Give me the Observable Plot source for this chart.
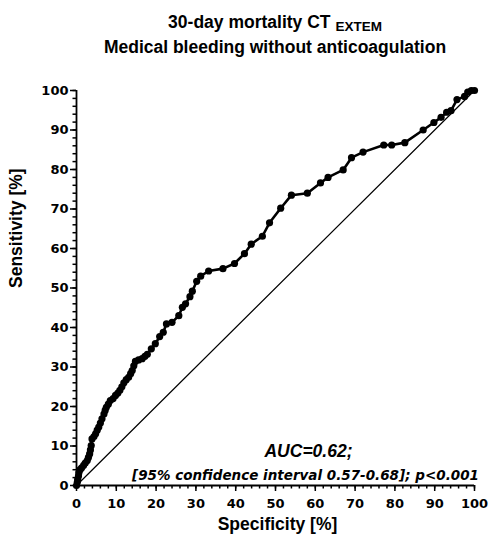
<!DOCTYPE html>
<html>
<head>
<meta charset="utf-8">
<script src="https://cdn.jsdelivr.net/npm/d3@7"></script>
<script src="https://cdn.jsdelivr.net/npm/@observablehq/plot@0.6"></script>
<style>
  html, body { margin: 0; padding: 0; background: #fff; }
  #wrap { width: 490px; height: 541px; position: relative; overflow: hidden; }
  #title { height: 66px; width: 398px; margin-left: 76px; box-sizing: border-box; padding-top: 10px;
           font-family: "Liberation Sans", Arial, sans-serif; font-weight: bold; font-size: 17.5px;
           line-height: 25px; text-align: center; color: #000; }
  #title sub { font-size: 13.5px; vertical-align: -3px; line-height: 0; }
</style>
</head>
<body>
<div id="wrap">
  <div id="title">
    <div>30-day mortality CT <sub>EXTEM</sub></div>
    <div>Medical bleeding without anticoagulation</div>
  </div>
  <div id="chart"></div>
</div>
<script>
// ROC curve points: specificity [%] and sensitivity [%]
const specificity = [0, 0.2, 0.3, 0.5, 0.6, 0.9, 1.3, 1.8, 2.2, 2.7, 3.0, 3.3, 3.5, 3.7, 3.9, 4.4, 4.8, 5.2, 5.6, 6.0,
  6.4, 6.9, 7.2, 7.5, 8.0, 8.5, 9.2, 9.8, 10.4, 10.9, 11.4, 11.9, 12.5, 13.1, 13.6, 14.0, 14.4, 14.8, 15.6, 16.5,
  17.2, 17.8, 18.8, 19.8, 20.9, 21.8, 22.6, 24.0, 25.7, 26.6, 27.4, 28.5, 29.1, 30.2, 31.2, 33.2, 36.8, 39.7, 42.2, 43.9,
  46.7, 48.5, 51.3, 54.0, 58.0, 61.3, 63.2, 67.0, 69.1, 72.0, 77.2, 79.2, 82.5, 87.1, 89.8, 91.6, 93.0, 94.1, 95.6, 97.5,
  98.3, 99.2, 100];
const sensitivity = [0, 0.8, 1.6, 2.4, 3.2, 4.0, 4.5, 5.1, 5.7, 6.3, 7.1, 8.0, 9.0, 10.1, 11.8, 12.4, 13.1, 14.0, 14.8, 15.8,
  16.9, 18.1, 19.0, 19.8, 20.6, 21.5, 22.0, 22.8, 23.4, 24.1, 25.0, 26.0, 26.8, 27.4, 28.3, 29.1, 30.3, 31.4, 31.8, 32.1,
  32.7, 33.2, 34.6, 35.9, 37.7, 38.8, 40.9, 41.3, 43.0, 45.1, 46.0, 47.8, 49.2, 51.7, 53.0, 54.3, 54.9, 56.2, 58.7, 61.1,
  63.1, 66.5, 70.2, 73.5, 74.0, 76.6, 78.0, 79.9, 83.0, 84.4, 86.2, 86.2, 86.8, 90.0, 91.9, 93.2, 94.5, 94.9, 97.7, 98.5,
  99.6, 100, 100];
// Reference (chance) line
const diagX = [0, 100];
const diagY = [0, 100];
// Ticks
const majorTicks = [0, 10, 20, 30, 40, 50, 60, 70, 80, 90, 100];
const minorTicks = d3.range(0, 101, 2);
// Texts
const xLabel = "Specificity [%]";
const yLabel = "Sensitivity [%]";
const aucText = "AUC=0.62;";
const ciText = "[95% confidence interval 0.57-0.68]; p<0.001";

const roc = specificity.map((s, i) => ({x: s, y: sensitivity[i]}));
const diag = diagX.map((d, i) => ({x: d, y: diagY[i]}));

const tickFont = "DejaVu Sans, sans-serif";

const chart = Plot.plot({
  width: 490,
  height: 475,
  marginTop: 24,
  marginBottom: 56,
  marginLeft: 76,
  marginRight: 16,
  style: {fontFamily: "Liberation Sans, Arial, sans-serif", fontWeight: "bold", color: "#000", background: "#fff"},
  x: {domain: [0, 100]},
  y: {domain: [0, 100]},
  marks: [
    Plot.axisY({ticks: minorTicks, tickSize: 3.5, text: null, label: null, strokeWidth: 1.5}),
    Plot.axisY({ticks: majorTicks, tickSize: 6, tickPadding: 2, label: null, fontSize: 13, fontFamily: tickFont, fontWeight: "bold", strokeWidth: 1.5}),
    Plot.axisX({ticks: minorTicks, tickSize: 3.5, text: null, label: null, strokeWidth: 1.5}),
    Plot.axisX({ticks: majorTicks, tickSize: 6, tickPadding: 7, label: null, fontSize: 13, fontFamily: tickFont, fontWeight: "bold", strokeWidth: 1.5}),
    Plot.ruleX([0], {stroke: "#000", strokeWidth: 1.8}),
    Plot.ruleY([0], {stroke: "#000", strokeWidth: 1.8}),
    Plot.line(diag, {x: "x", y: "y", stroke: "#000", strokeWidth: 1.2}),
    Plot.line(roc, {x: "x", y: "y", stroke: "#000", strokeWidth: 2.6}),
    Plot.dot(roc, {x: "x", y: "y", r: 3.6, fill: "#000", stroke: null}),
    Plot.text([xLabel], {frameAnchor: "bottom", dx: 2, dy: 39, text: d => d, fontSize: 17.5, fontWeight: "bold", lineAnchor: "middle", fill: "#000"}),
    Plot.text([yLabel], {frameAnchor: "left", dx: -60, rotate: -90, text: d => d, fontSize: 17.5, fontWeight: "bold", lineAnchor: "middle", fill: "#000"}),
    Plot.text([aucText], {frameAnchor: "bottom", dx: 33, dy: -34, text: d => d, fontSize: 17.5, fontWeight: "bold", fontStyle: "italic", lineAnchor: "middle", fill: "#000"}),
    Plot.text([ciText], {frameAnchor: "bottom", dx: 30, dy: -10, text: d => d, fontSize: 13.5, fontFamily: tickFont, fontWeight: "bold", fontStyle: "italic", lineAnchor: "middle", fill: "#000"})
  ]
});
document.getElementById("chart").appendChild(chart);
</script>
</body>
</html>
